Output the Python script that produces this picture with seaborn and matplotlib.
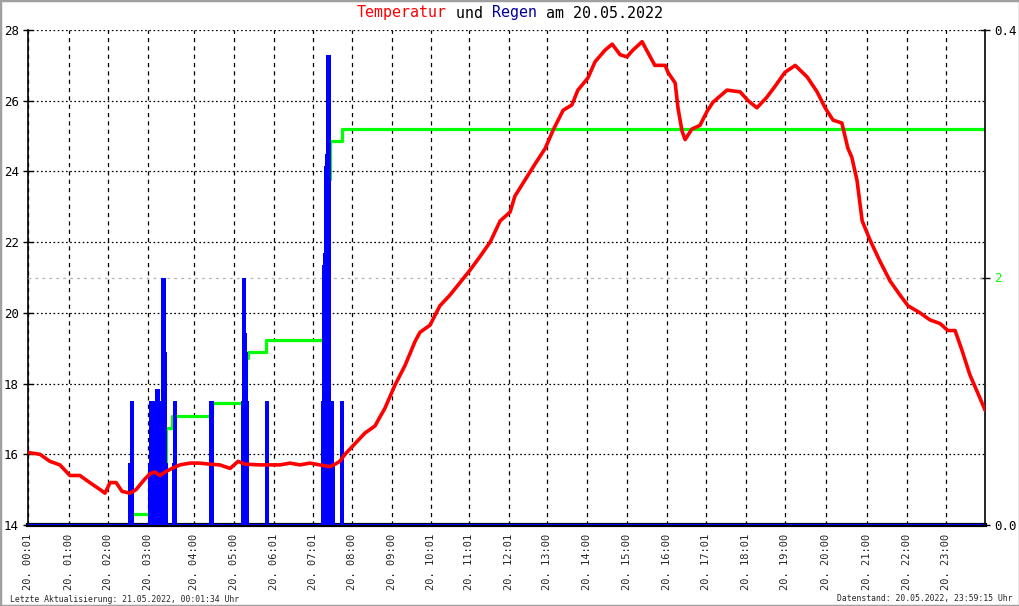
import matplotlib
matplotlib.use("Agg")
import matplotlib.pyplot as plt
import seaborn as sns
import pandas as pd
from matplotlib.patches import Rectangle

# ---------------- data ----------------
temp_hours = [0.00, 0.30, 0.55, 0.80, 1.05, 1.30, 1.55, 1.81, 1.93, 2.06, 2.21, 2.36, 2.56, 2.71,
              2.93, 3.06, 3.18, 3.31, 3.44, 3.61, 3.81, 4.06, 4.31, 4.56, 4.81, 5.07, 5.27, 5.44,
              5.82, 6.32, 6.57, 6.82, 7.07, 7.32, 7.57, 7.70, 7.82, 7.95, 8.20, 8.45, 8.70, 8.95,
              9.20, 9.45, 9.71, 9.83, 10.08, 10.33, 10.58, 10.83, 11.08, 11.34, 11.59, 11.84,
              12.09, 12.21, 12.46, 12.71, 12.97, 13.17, 13.42, 13.64, 13.79, 14.04, 14.22, 14.47,
              14.65, 14.85, 15.02, 15.17, 15.40, 15.60, 15.72, 15.98, 16.05, 16.23, 16.30, 16.40,
              16.48, 16.65, 16.85, 17.03, 17.18, 17.53, 17.86, 18.06, 18.28, 18.53, 18.73, 18.98,
              19.24, 19.54, 19.79, 19.99, 20.19, 20.41, 20.56, 20.66, 20.79, 20.92, 21.12, 21.37,
              21.62, 21.87, 22.07, 22.37, 22.62, 22.87, 23.07, 23.25, 23.42, 23.62, 23.87, 24.00]
temp_values = [16.05, 16.0, 15.8, 15.7, 15.4, 15.4, 15.2, 15.0, 14.9, 15.2, 15.2, 14.95, 14.9, 15.0,
               15.3, 15.45, 15.5, 15.4, 15.5, 15.6, 15.7, 15.75, 15.75, 15.72, 15.7, 15.6, 15.8, 15.72,
               15.7, 15.7, 15.75, 15.7, 15.75, 15.7, 15.65, 15.72, 15.8, 16.0, 16.3, 16.6, 16.8, 17.3,
               17.95, 18.5, 19.2, 19.45, 19.65, 20.2, 20.5, 20.85, 21.2, 21.6, 22.0, 22.6,
               22.85, 23.3, 23.75, 24.2, 24.65, 25.17, 25.73, 25.88, 26.3, 26.64, 27.1, 27.43,
               27.6, 27.3, 27.24, 27.43, 27.67, 27.25, 27.0, 27.0, 26.8, 26.5, 25.8, 25.15,
               24.9, 25.2, 25.3, 25.7, 25.96, 26.3, 26.25, 26.0, 25.8, 26.1, 26.4, 26.8,
               27.0, 26.67, 26.25, 25.8, 25.45, 25.37, 24.66, 24.4, 23.75, 22.6, 22.05, 21.45,
               20.9, 20.5, 20.2, 20.0, 19.8, 19.7, 19.5, 19.5, 18.95, 18.25, 17.6, 17.25]

rain_hours = [2.56, 2.61, 3.06, 3.08, 3.11, 3.13, 3.16, 3.18, 3.21, 3.24, 3.26, 3.28, 3.31, 3.33,
              3.36, 3.39, 3.41, 3.44, 3.46, 3.66, 3.69, 4.59, 4.61, 5.39, 5.42, 5.44, 5.47, 5.49,
              5.99, 7.40, 7.42, 7.45, 7.47, 7.50, 7.52, 7.55, 7.57, 7.62, 7.65, 7.87]
rain_values = [0.05, 0.10, 0.05, 0.10, 0.05, 0.10, 0.05, 0.10, 0.05, 0.11, 0.11, 0.05, 0.10, 0.10,
               0.05, 0.20, 0.20, 0.14, 0.05, 0.05, 0.10, 0.10, 0.10, 0.10, 0.20, 0.155, 0.14, 0.10,
               0.10, 0.10, 0.21, 0.22, 0.29, 0.30, 0.38, 0.38, 0.10, 0.10, 0.05, 0.10]

sum_hours = [2.61, 3.06, 3.26, 3.46, 3.61, 4.61, 5.42, 5.47, 5.52, 5.97, 7.42, 7.47, 7.52, 7.57, 7.87, 24.0]
sum_values = [0.09, 0.09, 0.40, 0.78, 0.88, 0.985, 1.07, 1.35, 1.40, 1.495, 1.60, 2.20, 2.80, 3.10, 3.20, 3.20]

tick_hours = [0.0, 1.02, 2.01, 3.01, 4.16, 5.17, 6.17, 7.15, 8.13, 9.13, 10.11, 11.06, 12.06,
              13.02, 14.02, 15.02, 16.02, 17.00, 18.01, 18.98, 20.01, 21.04, 22.04, 23.02]
tick_labels = ["20. 00:01", "20. 01:00", "20. 02:00", "20. 03:00", "20. 04:00", "20. 05:00",
               "20. 06:01", "20. 07:01", "20. 08:00", "20. 09:00", "20. 10:01", "20. 11:01",
               "20. 12:01", "20. 13:00", "20. 14:00", "20. 15:00", "20. 16:00", "20. 17:01",
               "20. 18:01", "20. 19:00", "20. 20:00", "20. 21:00", "20. 22:00", "20. 23:00"]
temp_ticks = [14, 16, 18, 20, 22, 24, 26, 28]
rain_ticks = [0.0, 0.4]
rain_tick_labels = ["0.0", "0.4"]
sum_ticks = [2]
sum_tick_labels = ["2"]

title_parts = [("Temperatur", "#ff0000"), (" und ", "#000000"), ("Regen", "#000099"),
               (" am 20.05.2022", "#000000")]
footer_left = "Letzte Aktualisierung: 21.05.2022, 00:01:34 Uhr"
footer_right = "Datenstand: 20.05.2022, 23:59:15 Uhr"

# ---------------- style ----------------
sns.set_style("white")
plt.rcParams["font.family"] = ["DejaVu Sans Mono", "DejaVu Sans"]
plt.rcParams["lines.scale_dashes"] = False

fig = plt.figure(figsize=(10.2, 6.06), dpi=100)
ax = fig.add_axes([28 / 1020, 81 / 606, 957 / 1020, 495 / 606])
ax.set_xlim(0, 24)
ax.set_ylim(14, 28)
ax.set_xticks(tick_hours)
ax.set_xticklabels(tick_labels, rotation=90)
ax.set_yticks(temp_ticks)
ax.set_yticklabels([str(t) for t in temp_ticks])
ax.grid(False)
ax.xaxis.grid(True, color="black", linestyle=(0, (3, 3)), linewidth=0.9)
ax.yaxis.grid(True, color="black", linestyle=(0, (1.2, 1.8)), linewidth=0.9)
ax.tick_params(axis="y", direction="inout", length=7, width=1, labelsize=9, pad=3,
               colors="black", left=True)
ax.tick_params(axis="x", length=0, pad=6, labelsize=7.5)
for s in ["top", "right"]:
    ax.spines[s].set_visible(False)
ax.spines["left"].set_color("black")
ax.spines["left"].set_linewidth(1.2)
ax.spines["bottom"].set_color("black")
ax.spines["bottom"].set_linewidth(3)

# cumulative rain axis (0..4)
ax_sum = ax.twinx()
ax_sum.set_ylim(0, 4)
ax_sum.axhline(2, color="#b4b4b4", linestyle=(0, (2, 3)), linewidth=0.9, zorder=1)
df_sum = pd.DataFrame({"h": sum_hours, "v": sum_values})
sns.lineplot(data=df_sum, x="h", y="v", ax=ax_sum, color="#00ff00", linewidth=2.3,
             drawstyle="steps-post", estimator=None, sort=False, zorder=2)
ax_sum.set_yticks(sum_ticks)
ax_sum.set_yticklabels(sum_tick_labels)
ax_sum.tick_params(axis="y", direction="inout", length=7, width=1, labelsize=9, pad=3,
                   labelcolor="#00ff00", color="black")
ax_sum.set_xlabel("")
ax_sum.set_ylabel("")
for s in ax_sum.spines.values():
    s.set_visible(False)

# rain rate axis (0..0.4)
ax_rain = ax.twinx()
ax_rain.set_ylim(0, 0.4)
ax_rain.bar(rain_hours, rain_values, width=0.09, color="#0000ff", linewidth=0, align="center")
ax_rain.axhline(0, color="#0000ff", linewidth=1.6)
ax_rain.set_yticks(rain_ticks)
ax_rain.set_yticklabels(rain_tick_labels)
ax_rain.tick_params(axis="y", direction="inout", length=7, width=1, labelsize=9, pad=3,
                    colors="black")
for s in ["top", "left", "bottom"]:
    ax_rain.spines[s].set_visible(False)
ax_rain.spines["right"].set_color("black")
ax_rain.spines["right"].set_linewidth(1.2)

# temperature axis (same scale as left)
ax_t = ax.twinx()
ax_t.set_ylim(14, 28)
df_t = pd.DataFrame({"h": temp_hours, "v": temp_values})
sns.lineplot(data=df_t, x="h", y="v", ax=ax_t, color="#ff0000", linewidth=2.6,
             estimator=None, sort=False)
ax_t.set_xlabel("")
ax_t.set_ylabel("")
ax_t.yaxis.set_visible(False)
for s in ax_t.spines.values():
    s.set_visible(False)
ax.set_xlim(0, 24)

# ---------------- title (multicolour) ----------------
renderer = fig.canvas.get_renderer()
title_fs = 10.8
texts = []
for part, col in title_parts:
    t = fig.text(0.0, 1 - 13 / 606, part, color=col, fontsize=title_fs, ha="left", va="center")
    texts.append(t)
widths = [t.get_window_extent(renderer).width for t in texts]
nchars = sum(len(p) for p, _ in title_parts)
char_w = sum(widths) / nchars
fig_w = fig.get_figwidth() * fig.dpi
start = (fig_w - char_w * nchars) / 2 / fig_w
pos = start
for t, (part, _) in zip(texts, title_parts):
    t.set_x(pos)
    pos += char_w * len(part) / fig_w

# ---------------- footer ----------------
fig.text(10 / 1020, 1 - 599 / 606, footer_left, fontsize=5.9, ha="left", va="center")
fig.text(1013 / 1020, 1 - 599 / 606, footer_right, fontsize=5.9, ha="right", va="center")

# border
fig.patches.append(Rectangle((0, 0), 1, 1, transform=fig.transFigure, fill=False,
                             edgecolor="#a0a0a0", linewidth=2.5))

fig.savefig("out.png", dpi=100)
